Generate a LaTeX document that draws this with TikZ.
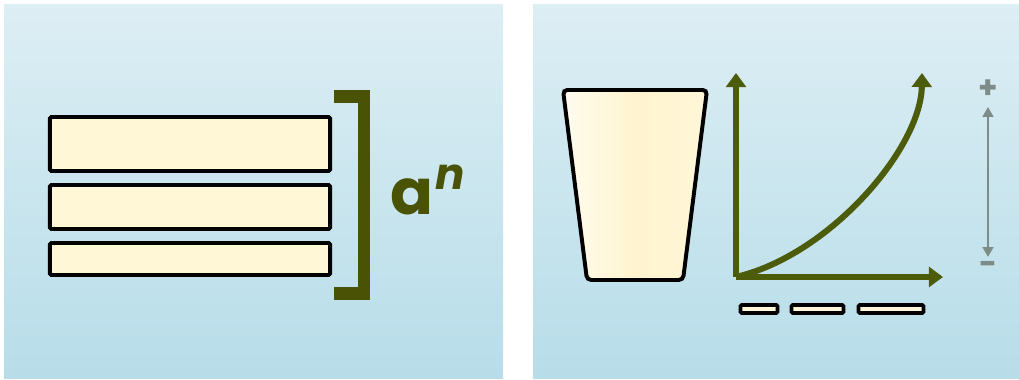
\documentclass[tikz,border=0pt]{standalone}
\usepackage{fontspec}
\newfontfamily\popfont{Poppins}
\usetikzlibrary{arrows.meta}
\definecolor{bgtop}{RGB}{221,238,244}
\definecolor{bgbot}{RGB}{183,221,233}
\definecolor{cream}{RGB}{255,247,214}
\definecolor{creamlight}{RGB}{255,252,240}
\definecolor{creamdeep}{RGB}{255,244,206}
\definecolor{olive}{RGB}{74,82,6}
\definecolor{axisgreen}{RGB}{76,92,10}
\definecolor{grayarrow}{RGB}{125,140,134}
\tikzset{
  panel/.style={top color=bgtop, bottom color=bgbot, draw=none},
  bigbar/.style={draw=black, line width=2.8pt, fill=cream, rounded corners=1pt, minimum width=7cm, inner sep=0pt},
  smallbar/.style={draw=black, line width=2.6pt, fill=cream, rounded corners=0.8pt, minimum height=0.2cm, inner sep=0pt},
  axis/.style={draw=axisgreen, line width=4.3pt, -{Triangle[length=10pt,width=14pt]}},
  gauge/.style={draw=grayarrow, line width=2pt, {Triangle[length=7pt,width=7.5pt]}-{Triangle[length=7pt,width=7.5pt]}},
  sign/.style={text=grayarrow, font=\popfont\bfseries\fontsize{22}{24}\selectfont, inner sep=0pt},
}
\begin{document}
\begin{tikzpicture}[x=0.025cm,y=0.025cm]
\useasboundingbox (0,0) rectangle (1019,380);
\fill[white] (0,0) rectangle (1019,380);
% panels
\shade[panel] (4,1) rectangle (503,375);
\shade[panel] (533,1) rectangle (1019,375);
% left: stacked bars
\node[bigbar, minimum height=1.35cm] (b1) at (190,236) {};
\node[bigbar, minimum height=1.1cm] (b2) at (190,173) {};
\node[bigbar, minimum height=0.8cm] (b3) at (190,121) {};
% bracket
\draw[olive, line width=9.2pt, line join=miter] (334,283.5) -- (364,283.5) -- (364,86.5) -- (334,86.5);
\node[anchor=base west, inner sep=0pt, text=olive, font=\popfont\bfseries\fontsize{45}{50}\selectfont] (a) at (390,165) {a};
\node[anchor=base west, inner sep=0pt, text=olive, font=\popfont\bfseries\itshape\fontsize{31}{34}\selectfont] (n) at (435,190) {n};
% right: cup
\path[left color=creamlight, right color=creamdeep!70!creamlight, middle color=creamdeep, rounded corners=3pt]
  (563,290) -- (707,290) -- (683,100) -- (587,100) -- cycle;
\path[draw=black, line width=2.8pt, rounded corners=3pt] (563,290) -- (707,290) -- (683,100) -- (587,100) -- cycle;
% axes
\coordinate (o) at (736,103);
\coordinate (ytip) at (736,307);
\coordinate (xtip) at (943,103);
\coordinate (ctip) at (922,307);
\draw[axis] (o) -- (ytip);
\draw[axis] (o) -- (xtip);
\draw[axis] (o) .. controls (830,125) and (921,232) .. (ctip);
% small bars
\node[smallbar, minimum width=0.925cm] (s1) at (759,71) {};
\node[smallbar, minimum width=1.3cm] (s2) at (817.5,71) {};
\node[smallbar, minimum width=1.625cm] (s3) at (891,71) {};
% gauge
\node[sign] (plus) at (988,291) {+};
\node[sign] (minus) at (988,112) {-};
\coordinate (gtop) at (988,273);
\coordinate (gbot) at (988,123);
\draw[gauge] (gbot) -- (gtop);
\end{tikzpicture}
\end{document}
